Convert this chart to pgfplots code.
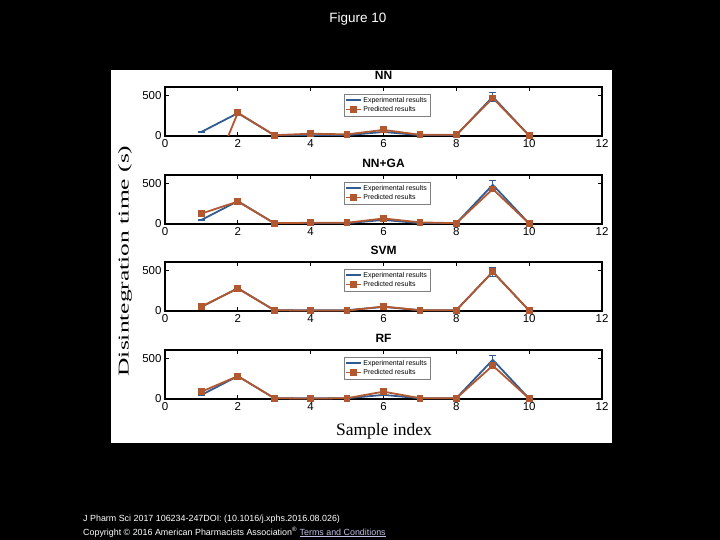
\documentclass[border=0pt]{standalone}
\usepackage{fontspec}
\setmainfont{Liberation Sans}
\newfontfamily\timesfont{Liberation Serif}
\usepackage{pgfplots}
\pgfplotsset{compat=1.18}
\usepackage{pgfplotstable}
\definecolor{expblue}{RGB}{50,92,145}
\definecolor{predred}{RGB}{178,88,48}
\definecolor{linkcol}{RGB}{190,190,230}

\pgfplotstableread{
x y e
1 50 5
2 280 8
3 10 3
4 10 3
5 10 3
6 50 6
7 10 3
8 10 3
9 480 55
10 5 2
}\expdata
\pgfplotstableread{
x y
1 -800
2 285
3 10
4 28
5 20
6 75
7 15
8 15
9 465
10 5
}\prednn
\pgfplotstableread{
x y
1 128
2 275
3 10
4 15
5 15
6 68
7 20
8 10
9 428
10 5
}\prednnga
\pgfplotstableread{
x y
1 55
2 275
3 10
4 5
5 5
6 55
7 10
8 10
9 480
10 5
}\predsvm
\pgfplotstableread{
x y
1 90
2 280
3 10
4 5
5 10
6 90
7 10
8 10
9 409
10 5
}\predrf

\pgfplotsset{
  panel/.style={
    width=437pt, height=49pt, scale only axis,
    xmin=0, xmax=12, ymin=0, ymax=600,
    xtick={0,2,...,12}, ytick={0,500},
    tick align=inside, major tick length=4pt,
    axis line style={line width=1.4pt},
    tick style={black, line width=1pt},
    /pgf/number format/assume math mode=true,
    ticklabel style={font=\fontsize{11.5}{12}\selectfont},
    title style={font=\bfseries\fontsize{12}{12}\selectfont, yshift=-2pt},
    legend style={at={(0.41,0.86)}, anchor=north west, draw=gray,
      font=\fontsize{7}{7.5}\selectfont, inner sep=1pt, row sep=-1.5pt,
      cells={anchor=west}},
    legend image code/.code={
      \draw[mark repeat=2,mark phase=2,##1] plot coordinates {(0cm,0cm) (0.25cm,0cm) (0.5cm,0cm)};},
  },
  expstyle/.style={expblue, line width=1.8pt, mark=none,
    error bars/.cd, y dir=both, y explicit,
    error bar style={expblue, line width=1.1pt}, error mark options={expblue, line width=1.1pt, mark size=3.5pt, rotate=90}},
  predstyle/.style={predred, line width=1.8pt, mark=square*, mark size=2.5pt, mark options={predred}},
}

\begin{document}
\begin{tikzpicture}
\fill[black] (0pt,0pt) rectangle (720pt,-540pt);
\fill[white] (111pt,-70pt) rectangle (612pt,-443pt);
\node[white, font=\fontsize{13.5}{14}\selectfont] at (358pt,-19pt) {Figure 10};
\node[white, anchor=base west, font=\fontsize{8.9}{9}\selectfont, inner sep=0pt] at (83pt,-521pt) {J Pharm Sci 2017 106234-247DOI: (10.1016/j.xphs.2016.08.026)};
\node[white, anchor=base west, font=\fontsize{8.9}{9}\selectfont, inner sep=0pt] at (83pt,-535pt) {Copyright © 2016 American Pharmacists Association\textsuperscript{®} \textcolor{linkcol}{\underline{Terms and Conditions}}};

\begin{axis}[panel, at={(165pt,-136pt)}, anchor=south west, title={NN}]
\addplot[expstyle] table[x=x, y=y, y error=e] {\expdata};
\addlegendentry{Experimental results}
\addplot[predstyle] table[x=x, y=y] {\prednn};
\addlegendentry{Predicted results}
\end{axis}

\begin{axis}[panel, at={(165pt,-224pt)}, anchor=south west, title={NN+GA}]
\addplot[expstyle] table[x=x, y=y, y error=e] {\expdata};
\addlegendentry{Experimental results}
\addplot[predstyle] table[x=x, y=y] {\prednnga};
\addlegendentry{Predicted results}
\end{axis}

\begin{axis}[panel, at={(165pt,-311pt)}, anchor=south west, title={SVM}]
\addplot[expstyle] table[x=x, y=y, y error=e] {\expdata};
\addlegendentry{Experimental results}
\addplot[predstyle] table[x=x, y=y] {\predsvm};
\addlegendentry{Predicted results}
\end{axis}

\begin{axis}[panel, at={(165pt,-399pt)}, anchor=south west, title={RF}]
\addplot[expstyle] table[x=x, y=y, y error=e] {\expdata};
\addlegendentry{Experimental results}
\addplot[predstyle] table[x=x, y=y] {\predrf};
\addlegendentry{Predicted results}
\end{axis}

\node[font=\timesfont\fontsize{17.5}{18}\selectfont] at (384pt,-431pt) {Sample index};
\node[rotate=90, font=\timesfont\fontsize{15}{16}\selectfont] at (125pt,-261pt) {\scalebox{1.7}[1]{Disintegration time (s)}};
\end{tikzpicture}
\end{document}
